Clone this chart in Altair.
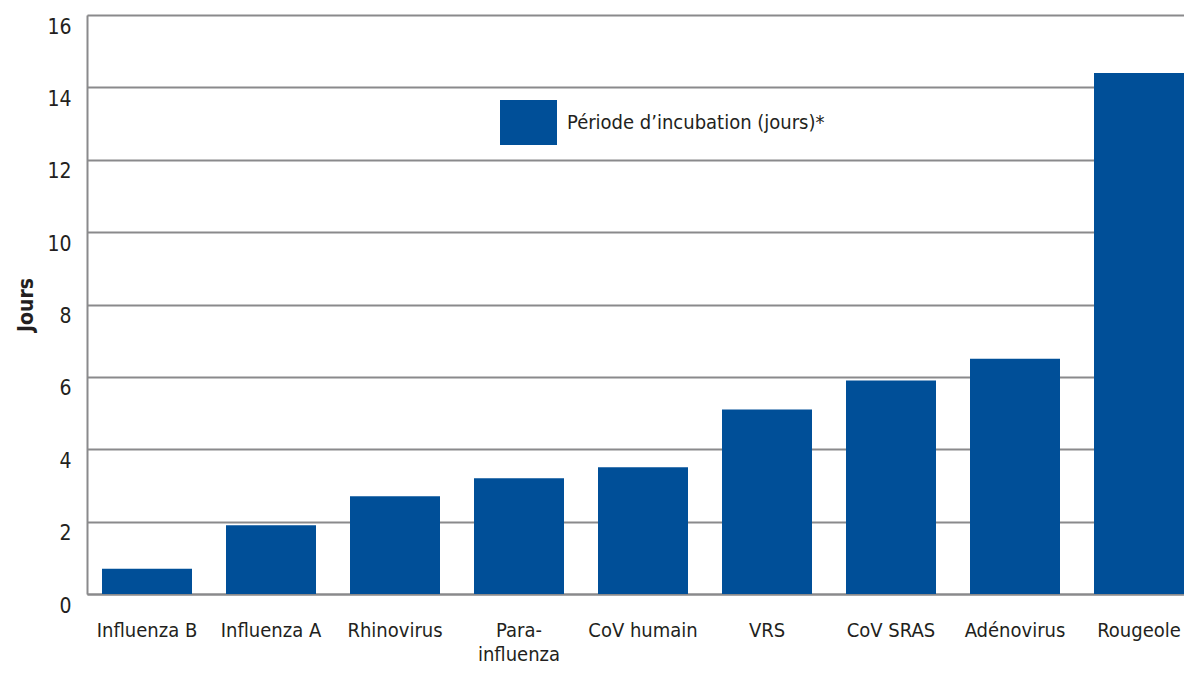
import altair as alt
import pandas as pd

categories = ["Influenza B", "Influenza A", "Rhinovirus", "Para-\ninfluenza", "CoV humain",
              "VRS", "CoV SRAS", "Adénovirus", "Rougeole"]
values = [0.7, 1.9, 2.7, 3.2, 3.5, 5.1, 5.9, 6.5, 14.4]
series_name = "Période d\u2019incubation (jours)*"
y_ticks = [0, 2, 4, 6, 8, 10, 12, 14, 16]

df = pd.DataFrame({"cat": categories, "val": values, "serie": [series_name] * len(categories)})

FONT = "DejaVu Sans Condensed, Liberation Sans Narrow, Roboto, sans-serif"
GRID = "#8a8a8c"
BAR = "#004f98"

chart = alt.Chart(df).mark_bar(color=BAR).encode(
    x=alt.X("cat:N", sort=categories, title=None,
            scale=alt.Scale(paddingInner=0.2742, paddingOuter=0.0605, align=1),
            axis=alt.Axis(labelAngle=0, labelExpr="split(datum.label, '\\n')",
                          labelLineHeight=24, labelPadding=26, ticks=False,
                          domain=True, domainColor=GRID, domainWidth=2,
                          labelFontSize=20, labelColor="#231f20", labelFont=FONT,
                          labelBaseline="top", labelLimit=0)),
    y=alt.Y("val:Q", title="Jours",
            scale=alt.Scale(domain=[0, 16], nice=False),
            axis=alt.Axis(values=y_ticks, ticks=False, grid=True, gridColor=GRID, gridWidth=2,
                          domain=True, domainColor=GRID, domainWidth=2,
                          labelFontSize=21, labelFont=FONT, labelColor="#231f20",
                          labelPadding=16, labelOffset=12,
                          titleFont=FONT, titleFontSize=21, titleFontWeight="bold",
                          titleColor="#231f20", titlePadding=10)),
    color=alt.Color("serie:N", scale=alt.Scale(range=[BAR]),
                    legend=alt.Legend(title=None, orient="none", legendX=413, legendY=79,
                                      symbolType="M-1,-0.79L1,-0.79L1,0.79L-1,0.79Z",
                                      symbolSize=3249, symbolStrokeWidth=0,
                                      symbolFillColor=BAR, symbolOpacity=1,
                                      labelFontSize=20, labelFont=FONT, labelColor="#231f20",
                                      labelOffset=10, padding=0, rowPadding=0, labelLimit=0)),
).properties(
    width=1097, height=579,
    autosize=alt.AutoSizeParams(type="none"),
    padding={"left": 79, "top": 7, "right": 0, "bottom": 71},
).configure_view(stroke=None).configure(background="white")

chart.save("out.html", embed_options={"renderer": "svg", "actions": False})
